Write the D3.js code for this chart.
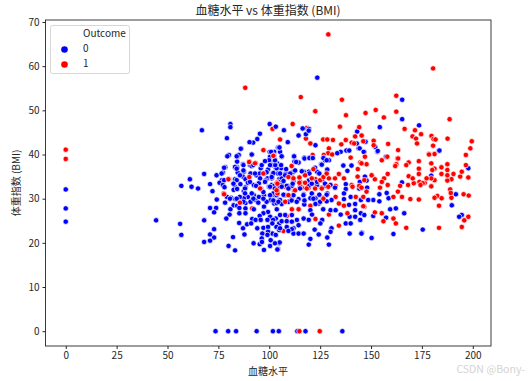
<!DOCTYPE html>
<html lang="zh">
<head>
<meta charset="UTF-8">
<title>血糖水平 vs 体重指数 (BMI)</title>
<script src="https://d3js.org/d3.v7.min.js"></script>
<style>
    body { margin: 0; background: #fff; }
    text { font-family: "Noto Sans CJK SC", "Noto Sans", sans-serif; fill: #262626; }
    .tick text { font-size: 10px; }
    .tick line, .domain { stroke: #262626; }
</style>
</head>
<body>
<svg id="chart" width="528" height="381"></svg>
<script>
// [glucose, bmi], drawn in this order so overlaps look like the original
const redBack = [[77.6,31.2],[85.5,29.3],[80.2,34.4],[83.3,37],[90.3,35],[91.6,27.8],[93.3,38.1],[95.8,32.3],[97.4,41],[97.7,35.7],[101.6,45.8],[102.4,39.5],[104.3,33.1],[105.7,32.9],[105.3,43.4],
[107.8,32.7],[112.2,31.8],[119.4,32.5],[125.5,32.5],[116,32.5],[128.5,32.7],[110.2,32.9],[120.2,28.4],[114.4,27.6],[111.1,27.6],[129.3,26.4],[108.6,26.1],[106.9,22.7],[122.7,25.4],[109.4,32.9],
[111.5,46.9],[118.5,46],[118,43.6],[120.2,42.5],[126.5,43.4],[128.5,43.4],[131.3,43.3],[129.3,41.4],[128.9,40.3],[130.9,40],[126.8,39.9],[121.3,39.9],[117.4,35.3],[124.3,35.7],[111.1,35],[115.2,33.8],[122.7,34.4],[129.3,34.6],[132.3,34.6],[115.2,32.9],[132.6,32.9],[126.5,30.2],[132.6,30.4]];

const blueMain = [[0,32.1],[0,27.8],[0,24.8],[44.4,25.1],[56.2,24.3],[56.8,21.8],[56.8,32.9],[80.9,46.9],[80.9,46.2],[100.2,46.9],[103.2,46.3],[66.9,45.5],[107.2,45.5],[119.5,45.8],[123.6,57.4],
[79.2,43.7],[95.4,44.7],[94.1,43.5],[92.1,42.7],[90.3,42.8],[86.2,41.4],[80.2,39.9],[84.2,39.5],[85,39.9],[91.4,40],[100.2,40.6],[102.4,40.6],[100.4,39.5],[104.3,41.6],[105.3,40.6],[84.2,38.4],[87.1,37.8],[90.3,38.4],[90.5,37.6],[78.4,37.1],[77.2,35.9],[74.1,35.3],[68,35.6],[84.2,37.1],[84.5,35.9],[87.5,36.1],[91.3,37.4],[90.8,35.7],[95.8,36.9],[93.6,35.3],[95.4,35.7],
[99.4,36.6],[101.2,38],[99.9,38.7],[104,38],[103.2,36.9],[104.3,35.7],[101.5,35.3],[99.1,34.6],[83.2,34.4],[61,34.4],[87,35],[88.3,34.4],[70.9,33.3],[76.7,34.2],[75.6,33.6],[77.2,33.1],[78,32.6],[61.8,32.7],[65,32.3],[83.3,32.6],[88.3,32.6],[85.8,33.3],[89.5,33.6],[92.4,33.1],[94.9,33.5],[98.2,34.1],[101.2,33.1],[104.9,34.4],[102.4,32.6],[95.8,32.3],
[72.1,31.7],[74.2,29.8],[81.2,30.2],[79.2,30.4],[83.3,29.9],[82.5,32],[84.2,32.2],[87.5,31.7],[89.5,30.4],[87.5,30.1],[85.5,30.4],[88.3,29],[90.8,29.3],[92.4,30.8],[93.3,29.7],[97.4,30.8],[94.9,30.4],[100.7,29.7],[98.7,29.3],[102.4,28.9],[102.4,30.8],[99.9,32.7],[104,31.6],[104.9,29.7],
[82.5,28.5],[80.9,27.6],[84.2,28.4],[85.3,27.9],[88.3,27.8],[85.3,26.7],[88.3,26.7],[92.4,27.6],[97.4,28.2],[99.4,27],[103.7,27.6],[97.1,26.7],[100.4,25.9],[103.2,25.5],[70.9,27.9],[73.9,27.9],[72.9,26.9],[68,25.1],[80.5,26.4],[78.9,25.5],
[85.2,24.5],[89.1,24.2],[87.1,23.3],[87.8,21.9],[91.6,25.4],[95.3,26.1],[93.3,25.2],[95.8,25.2],[99.1,25.2],[101.9,25.2],[104.9,24.4],[91.1,24.4],[94.1,23.3],[97.1,23.4],[99.4,23.6],[101.5,22.1],[103.5,23.6],[104.9,22.9],[96.6,22.1],[99.4,22.5],[101.5,24.4],
[72.9,23.1],[70.9,21.9],[72.9,21.2],[70.9,20.5],[68,20.2],[82.2,21.3],[80,19.3],[83.2,18.3],[92.3,19.9],[95.3,19.7],[96.3,21],[99.1,21.8],[100.4,19.3],[97.4,18.4],[104.3,18.6],[96.4,20.2],[100.7,20.6],[103.2,21.8],[104.9,19.9],
[114.4,44.3],[116.4,45.9],[118,44.6],[119.4,45.4],[122.7,42.1],[109.1,42.8],[104.9,41.6],[143.9,41.4],[146.7,40.6],[137.9,40.9],[135.1,40.6],[133.4,40.3],[106.1,39.5],[112.2,39.5],[117.2,39.3],[120.2,39.3],[126.8,39.3],[127.3,38.7],[129.3,38.7],[112.4,38.4],[114.4,38.2],[102.8,38.4],[105.8,37.6],[105.8,36.9],[103.6,36.9],[125.5,37.8],[136.4,37.5],[140.4,37.5],[122.3,36.9],[123.5,36.1],[128.5,36.6],[138.4,36.3],[119.4,36.1],[116.9,36.1],[111.9,36.1],[108.1,35.7],[111.9,34.1],[119.4,34.1],[126,34.2],[137.6,33.3],[144.2,32.3],[106.1,34.6],[104.5,33.8],[106.1,33.1],[108.6,32.9],[111.1,32.9],[119.4,32.9],[123.5,33.1],[123.5,33.8],[127.6,32.9],[130.1,33.1],
[104.8,32.7],[107.8,30.8],[105.3,29.7],[109.4,29.3],[111.1,30.4],[106.1,28.8],[103.6,29],[114.4,29.9],[116.9,31],[120.2,30.1],[122.7,30.1],[124.3,28.9],[128.5,31.2],[132.3,32.5],[137.6,32.2],[136.7,31.2],[136.7,29.9],[139.2,28.6],[142.2,28.8],[145,29.7],[140,30.4],[130.6,29.7],[120.2,27.4],[117.2,28.7],[122.7,28.8],[126.5,27.6],[130.1,27.4],[132.6,27.4],[135.1,26.4],[139.5,25.9],[142.2,25.9],[145,26.7],[142.2,27.4],[144.7,25.2],[146.7,26.3],[137.6,24.4],[140,24.4],[111.1,26.3],[107.8,26.3],[105.3,26.3],[116.9,25.5],[113.6,25.2],[119.4,25.2],[126,25.2],[125.1,24.4],[121,26.4],[106.1,24.9],[108.6,24.9],[111.1,24.8],[114.4,24],[105.3,23.3],[108.6,23.6],[111.9,23.3],[111.9,22.1],[114.4,22.1],[116.9,22.1],[122.3,23],[124.3,21.9],[130.6,23.3],[130.1,22.5],[128.5,21.2],[139.5,22.1],[145.5,22.3],[120.2,20.9],[119.4,19.6],[129.3,19.6],[105.1,20.1],[102.8,19.9],[104,18.5],[111.1,23.1],[109.4,22.7],
[153.1,40.6],[157.4,39.5],[183.4,40.8],[179.6,35.2],[147,35],[147.8,34.1],[148.1,32.5],[144.5,33.8],[165.2,33.7],[154.1,31],[157.7,31.3],[151.1,29.7],[154.1,29.4],[158.6,30.1],[148.6,29.7],[159.4,27.6],[162.2,27.8],[166.3,26.7],[151.1,26.1],[157.4,25.7],[175.4,23],[191.7,31],[189.7,28.5],[194.6,26.3],[193.3,25.9],[197.8,36.9],[145.3,22.1],[150.3,21.1],[161,22],
[165.3,52.4],[165.3,48],[154.3,46.2],[173.6,46.6],[143.2,45.2],[143,42.5],[147.3,42.9],[144.4,41.4],[146.4,40.6],[152.1,41.7],[153.3,40.8],[157.4,39.5],[139.3,40.9],[183.6,40.9],
[73.6,0],[79.8,0],[83.7,0],[93.8,0],[101.8,0],[104.7,0],[113.8,0],[117.8,0],[135.9,0]];

// second pass over the dense middle of the cloud
const blueDense = [[105,41.6],[101.7,37.6],[106.1,39.6],[112.2,39.6],[113.2,38.3],[117.3,39.1],[119.7,39.2],[121.4,39.2],[126.6,39.2],[125.8,37.7],[122.5,37],[128.2,38.7],[102.9,37.6],[105.8,37.6],[108.3,36.7],[112.7,36.4],[116,36.2],[102,35.8],[105.3,35.7],[107.8,35.3],[110.3,35.7],[119.7,35.7],[124.6,35.7],[101.2,34.6],[107,34],[111.5,33.4],[120.9,33.4],[127.4,33.4],[102.4,32.9],[106.1,32.7],[109.4,32.3],[115.1,32.3],[102,31.2],[107,30.9],[111.9,30.8],[116.8,30.8],[120.9,31.2],[124.6,30.9],[128.2,30.9],[102,29.6],[104.5,29.3],[111,29.6],[113.5,29.3],[117.3,29.6],[121.7,30],[125,29.3],[128.2,29.4],
[86,41.3],[91.4,40],[79.4,39.6],[84,39.6],[100.9,40.6],[102.3,39.8],[77.8,37],[76.6,35.7],[83.2,37.2],[87.3,37.6],[84,36.8],[87.3,36.4],[92.2,37.6],[96.3,37.6],[97.9,38.5],[100.4,37.6],[102.8,38.7],[85.6,35.3],[93,35.7],[98.7,36],[95.5,34.6],[101.2,34.9],[84,34.2],[90.5,33.8],[97.9,33.8],[77.8,34.2],[88.1,32.3],[93.5,32.9],[100.4,32.7],[82.4,33.4],[102.8,32.3],[80.7,30],[84,30],[88.1,31.2],[91.4,31.2],[92.2,30],[97.1,31.5],[97.1,30],[100.4,30.8],[103.6,30.8],[78.3,29.1],[87.3,29.3],[94.6,29.1]];

const redMid = [[102,39.7],[111,37.4],[121.7,36.7],[117.6,35.3],[114.8,34.8],[114.8,33.6],[117.6,33.6],[109.4,34.9],[111.9,34.6],[120.9,34.6],[125,34.2],[126.6,34.9],[128.2,35.7],[103.7,33.6],[112.7,31.9],[118.4,32.3],[122.5,32.3],[125.8,32.3],[129,32.7],[104,31.2],[109.4,30.8],[126.6,30],[107.8,29.3],
[97.1,41],[93,38],[90.1,38.3],[97.1,35.7],[90.2,34.9],[79.9,34.4],[104,33.4],[95.5,32.3],[77.8,31],[103.6,31.9],[85.6,29.1]];

const redFront = [[0,41.1],[0,39],[88.2,55.1],[129,67.2],[115.5,53],[135.7,52.4],[122.6,49.8],[137.7,48.9],[134.7,46.3],[180.5,59.5],[162.4,53.3],[162.4,49.7],[147.3,49.4],[152.3,50.1],[156.3,48.4],[188.6,48],[144.2,46.2],[166.5,45.8],[171.6,45.5],[170.4,44.1],[172.1,43.6],[174.6,44.6],[142.2,44.1],[145.4,44.3],[172.6,42.5],[179.7,44.2],[180.7,43.5],[181.7,43.4],[187.6,43.6],
[135.4,42.3],[137.6,43.3],[140.5,42.7],[141.7,42.5],[146.2,43],[140,39.3],[144.7,38.2],[145.5,38],[143.5,36.7],[134.2,35.6],[136.7,34.6],[143.4,35],[146.7,34.2],[140.5,33.1],[140.9,32.7],[142.5,30.4],[144.2,32.9],[146.7,28.2],[146.2,30.4],[134.2,28.9],[136.7,28.4],[138.4,26.7],[134.2,23.9],
[163,39.1],[162.4,37.8],[161.9,37.4],[155.3,38.7],[168.5,38.2],[167.3,37.6],[173.5,38.5],[173.5,36.8],[173.5,35.6],[179.6,38],[181.2,36.8],[180.1,36.5],[184.6,37.1],[187.5,37.8],[187.5,36.5],[184.6,35.6],[181.2,34.2],[178.4,40.1],[181.2,40.1],[196.6,39.9],[196.6,37.6],[197.8,34.8],[193.8,35],[194.6,36.1],[190.5,35.6],[189.5,34.4],[187.5,34.1],[179.6,32.8],[176.4,33.6],[173.8,33.8],[175.4,33.5],[174.3,33.1],[171,33.5],[168.5,35.1],[170.5,34.6],[168.2,33.1],[164.3,32.9],[158.2,35.6],[156.4,34.6],[155.3,33.8],[154.4,32.5],[158.2,33.1],[151.9,34.4],[150.3,35.3],[147.8,37.8],[145.3,38],[147,39.5],
[163.2,31.6],[165.2,30.4],[161,30.4],[169.3,29.9],[173.5,29.8],[182.6,30.6],[181.2,30.2],[184.7,30.1],[183.4,28.4],[188.9,32.1],[189.5,30.2],[195.5,31],[198,30.7],[189.2,31.3],[151.9,26.9],[155.3,26.7],[156.1,24.9],[161,25.5],[162.2,24.4],[167.3,23.4],[183.4,23.4],[194.6,23.6],[197.8,25.9],[195.8,25.1],[146.2,28.3],[147.8,31.6],[145.3,32.5],[179.6,34.6],[177.3,34.6],[187.5,35.3],
[151.3,43.1],[151.3,42.1],[158.4,42.4],[163.3,41],[180.5,42],[198.8,41.4],[199.5,43],[178.5,40],[163.3,39.1],[158,39.5],
[114.8,0],[124.8,0]];

const xTicks = [0, 25, 50, 75, 100, 125, 150, 175, 200];
const yTicks = [0, 10, 20, 30, 40, 50, 60, 70];
const outcomes = ["0", "1"];
const outcomeColors = ["#0000ff", "#ff0000"];

const svg = d3.select("#chart");
const margin = { top: 20, right: 37, bottom: 35, left: 45.5 };
const width = 528, height = 381;

const x = d3.scaleLinear().domain([-9.95, 208.95]).range([margin.left, width - margin.right]);
const y = d3.scaleLinear().domain([-3.355, 70.455]).range([height - margin.bottom, margin.top]);

function drawPoints(rows, color) {
    svg.append("g").selectAll("circle")
        .data(rows)
        .enter()
        .append("circle")
        .attr("cx", d => x(d[0]))
        .attr("cy", d => y(d[1]))
        .attr("r", 2.7)
        .attr("fill", color)
        .attr("stroke", "#fff")
        .attr("stroke-width", 0.7);
}

drawPoints(redBack, outcomeColors[1]);
drawPoints(blueMain, outcomeColors[0]);
drawPoints(blueDense, outcomeColors[0]);
drawPoints(redMid, outcomeColors[1]);
drawPoints(redFront, outcomeColors[1]);

// axes
svg.append("g")
    .attr("transform", `translate(0,${height - margin.bottom})`)
    .call(d3.axisBottom(x).tickValues(xTicks).tickSize(3).tickPadding(3));
svg.append("g")
    .attr("transform", `translate(${margin.left},0)`)
    .call(d3.axisLeft(y).tickValues(yTicks).tickSize(3).tickPadding(3));
svg.selectAll(".domain").remove();

// frame
svg.append("rect")
    .attr("x", margin.left).attr("y", margin.top)
    .attr("width", width - margin.left - margin.right)
    .attr("height", height - margin.top - margin.bottom)
    .attr("fill", "none").attr("stroke", "#262626").attr("stroke-width", 0.9);

svg.append("text").attr("x", 268).attr("y", 15).attr("text-anchor", "middle")
    .style("font-size", "12px").text("血糖水平 vs 体重指数 (BMI)");
svg.append("text").attr("x", 268).attr("y", 375).attr("text-anchor", "middle")
    .style("font-size", "10px").text("血糖水平");
svg.append("text").attr("transform", "translate(20,183) rotate(-90)").attr("text-anchor", "middle")
    .style("font-size", "10px").text("体重指数 (BMI)");

// legend
const legend = svg.append("g");
legend.append("rect")
    .attr("x", 50.5).attr("y", 25.5).attr("width", 79).attr("height", 48).attr("rx", 2)
    .attr("fill", "#fff").attr("fill-opacity", 0.8).attr("stroke", "#ccc").attr("stroke-width", 0.8);
legend.append("text").attr("x", 83).attr("y", 37).style("font-size", "10px").text("Outcome");
outcomes.forEach((o, i) => {
    legend.append("circle")
        .attr("cx", 64.5).attr("cy", 49.5 + i * 15)
        .attr("r", 3.3).attr("fill", outcomeColors[i]);
    legend.append("text").attr("x", 83).attr("y", 52 + i * 15).style("font-size", "10px").text(o);
});

// watermark
svg.append("text").attr("x", 525).attr("y", 373).attr("text-anchor", "end")
    .style("font-size", "10.5px").style("fill", "#d4d4d4").text("CSDN @Bony-");
</script>
</body>
</html>
